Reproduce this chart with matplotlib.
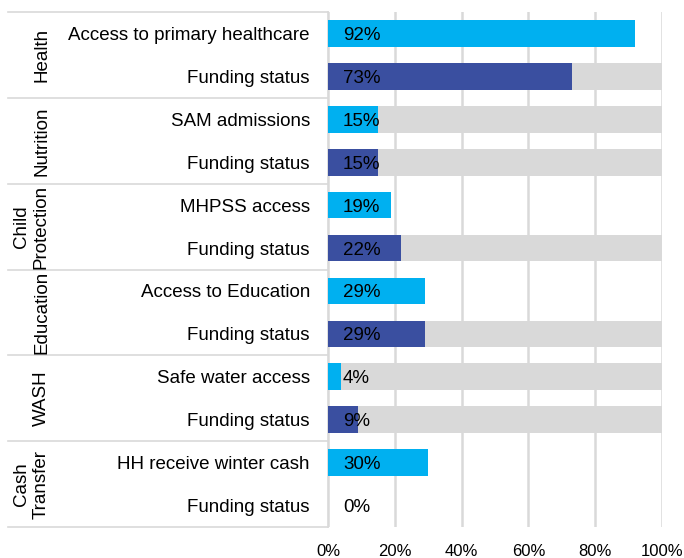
import matplotlib.pyplot as plt
from matplotlib.transforms import blended_transform_factory

plt.rcParams['font.family'] = ['Liberation Sans', 'DejaVu Sans']
plt.rcParams['font.size'] = 13.5

# данные
groups = ['Health', 'Nutrition', 'Child\nProtection', 'Education', 'WASH', 'Cash\nTransfer']
rows = ['Access to primary healthcare', 'Funding status',
        'SAM admissions', 'Funding status',
        'MHPSS access', 'Funding status',
        'Access to Education', 'Funding status',
        'Safe water access', 'Funding status',
        'HH receive winter cash', 'Funding status']
values = [92, 73, 15, 15, 19, 22, 29, 29, 4, 9, 30, 0]
# серые подложки до 100% (1 - есть, 0 - нет)
backdrop = [0, 1, 1, 1, 0, 1, 0, 1, 1, 1, 0, 0]
xticks = [0, 20, 40, 60, 80, 100]

light = '#00b0f0'
dark = '#3a4fa0'
grey = '#d9d9d9'

fig = plt.figure(figsize=(6.84, 5.58), dpi=100)
ax = fig.add_axes([328 / 684, 1 - 527 / 558, 334 / 684, 515 / 558])

y = list(range(len(rows)))
colors = [light if i % 2 == 0 else dark for i in y]
bh = 0.62

ax.barh(y, [100 * b for b in backdrop], height=bh, color=grey, zorder=2)
ax.barh(y, values, height=bh, color=colors, zorder=3)

for i, v in enumerate(values):
    ax.text(4.5, i, f'{v}%', va='center_baseline', ha='left', color='black', zorder=4)

ax.set_xlim(0, 100)
ax.set_ylim(len(rows) - 0.5, -0.5)
ax.set_xticks(xticks)
ax.set_xticklabels([f'{t}%' for t in xticks], fontsize=12)
ax.set_yticks(y)
ax.set_yticklabels(rows, va='center_baseline')
ax.tick_params(axis='y', length=0, pad=13)
ax.tick_params(axis='x', length=0, pad=12)

ax.grid(axis='x', color=grey, linewidth=1.8, zorder=0)
ax.set_axisbelow(True)
for s in ['top', 'right', 'bottom']:
    ax.spines[s].set_visible(False)
ax.spines['left'].set_color(grey)
ax.spines['left'].set_linewidth(1.2)

# разделители групп и подписи групп
tr = blended_transform_factory(ax.transAxes, ax.transData)
x0 = (8 - 328) / 334
xlab = (50 - 328) / 334
for k in range(len(groups) + 1):
    yy = 2 * k - 0.5
    ax.plot([x0, 0], [yy, yy], color=grey, linewidth=1.2, transform=tr, clip_on=False)
for k, g in enumerate(groups):
    ax.text(xlab, 2 * k + 0.5, g, rotation=90, ha='right', va='center',
            multialignment='center', transform=tr)

fig.savefig('out.png', dpi=100)
